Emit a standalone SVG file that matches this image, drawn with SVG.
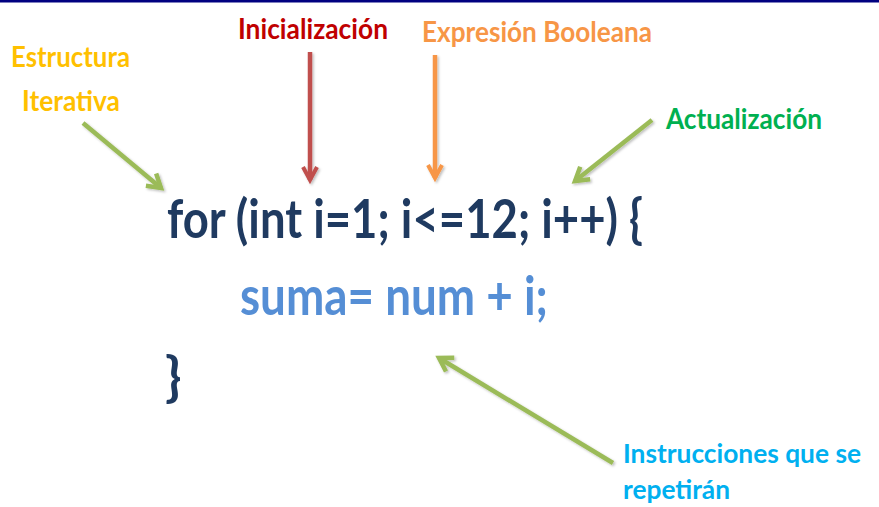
<svg xmlns="http://www.w3.org/2000/svg" width="879" height="507" viewBox="0 0 879 507">
<style>
  text { font-family: Lato, "Liberation Sans", sans-serif; font-weight: bold; }
  .lbl { font-size: 29px; }
  .lbl2 { font-size: 27px; }
  .code { font-size: 54px; }
  .arr { fill: none; stroke-width: 4.5; }
</style>
<defs>
  <marker id="mGreen" markerUnits="userSpaceOnUse" markerWidth="30" markerHeight="30" refX="0" refY="0" viewBox="-20 -15 30 30" orient="auto">
    <path d="M -13 -8 L 0 0 L -13 8" fill="none" stroke="#9BBB59" stroke-width="4.5"/>
  </marker>
  <marker id="mRed" markerUnits="userSpaceOnUse" markerWidth="30" markerHeight="30" refX="0" refY="0" viewBox="-20 -15 30 30" orient="auto">
    <path d="M -13 -7 L 0 0 L -13 7" fill="none" stroke="#C0504D" stroke-width="4"/>
  </marker>
  <marker id="mOrange" markerUnits="userSpaceOnUse" markerWidth="30" markerHeight="30" refX="0" refY="0" viewBox="-20 -15 30 30" orient="auto">
    <path d="M -13 -7 L 0 0 L -13 7" fill="none" stroke="#F79646" stroke-width="4"/>
  </marker>
  <filter id="sh" x="-20%" y="-20%" width="140%" height="140%">
    <feDropShadow dx="1.5" dy="1.5" stdDeviation="1.2" flood-color="#000" flood-opacity="0.25"/>
  </filter>
</defs>
<rect x="0" y="0" width="879" height="507" fill="#FFFFFF"/>
<rect x="0" y="0" width="879" height="2.5" fill="#000080"/>

<g id="connectors" filter="url(#sh)">
  <line class="arr" x1="83" y1="123" x2="161" y2="188" stroke="#9BBB59" marker-end="url(#mGreen)"/>
  <line class="arr" x1="310" y1="52" x2="310" y2="180" stroke="#C0504D" stroke-width="4" marker-end="url(#mRed)"/>
  <line class="arr" x1="435" y1="55" x2="435" y2="178" stroke="#F79646" stroke-width="4" marker-end="url(#mOrange)"/>
  <line class="arr" x1="652" y1="120" x2="575" y2="181" stroke="#9BBB59" marker-end="url(#mGreen)"/>
  <line class="arr" x1="613" y1="463" x2="439" y2="358" stroke="#9BBB59" marker-end="url(#mGreen)"/>
</g>

<g id="estructura">
  <text class="lbl" x="11" y="67" fill="#FFC000" textLength="119" lengthAdjust="spacingAndGlyphs">Estructura</text>
  <text class="lbl" x="22" y="111" fill="#FFC000" textLength="98" lengthAdjust="spacingAndGlyphs">Iterativa</text>
</g>
<g id="inicializacion">
  <text class="lbl" x="238" y="39" fill="#C00000" textLength="150" lengthAdjust="spacingAndGlyphs">Inicialización</text>
</g>
<g id="expresion">
  <text class="lbl" x="422" y="42" fill="#F79646" textLength="230" lengthAdjust="spacingAndGlyphs">Expresión Booleana</text>
</g>
<g id="actualizacion">
  <text class="lbl" x="666" y="129" fill="#00B050" textLength="156" lengthAdjust="spacingAndGlyphs">Actualización</text>
</g>
<g id="instrucciones">
  <text class="lbl2" x="623" y="463" fill="#00B0F0" textLength="238" lengthAdjust="spacingAndGlyphs">Instrucciones que se</text>
  <text class="lbl2" x="623" y="499" fill="#00B0F0" textLength="107" lengthAdjust="spacingAndGlyphs">repetirán</text>
</g>
<g id="code">
  <text class="code" x="167" y="238" fill="#1F3A60" textLength="476" lengthAdjust="spacingAndGlyphs">for (int i=1; i&lt;=12; i++) {</text>
  <text class="code" x="240" y="315" fill="#558ED5" textLength="308" lengthAdjust="spacingAndGlyphs">suma= num + i;</text>
  <text class="code" x="165" y="396" fill="#1F3A60" font-size="58">}</text>
</g>
</svg>
